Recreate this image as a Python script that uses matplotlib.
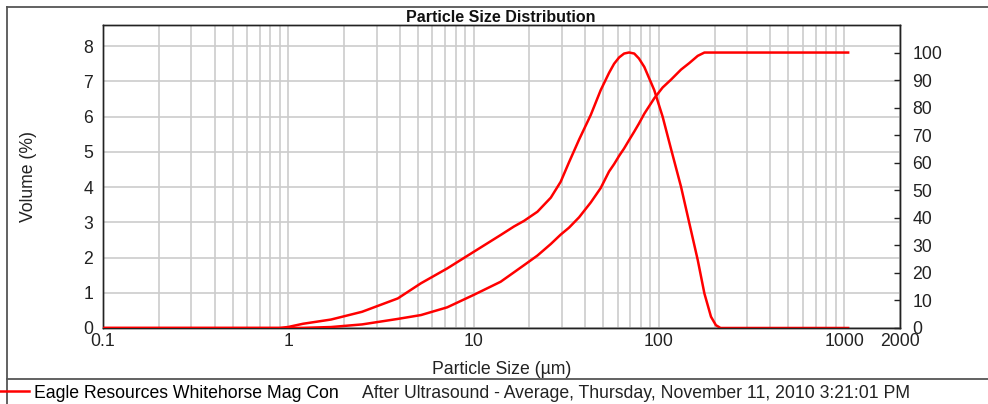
import matplotlib
matplotlib.use("Agg")
import matplotlib.pyplot as plt
from matplotlib.lines import Line2D
from matplotlib.ticker import FixedLocator, LogLocator, NullFormatter

plt.rcParams["font.family"] = ["Liberation Sans", "DejaVu Sans"]

# particle sizes (um)
sizes = [0.1, 0.2, 0.5, 0.9, 1.0, 1.2, 1.7, 2.5, 3.9, 5.2, 7.2, 10, 12, 14, 16.5,
         18.7, 22.1, 26.1, 29.5, 32.7, 37.1, 42.9, 48.5, 53.8, 57.3, 61, 64.9, 69,
         73.6, 78, 83.4, 94.4, 104.7, 116, 131.6, 146, 162, 176, 191, 203, 215,
         300, 500, 1050]
# volume density (%), left axis
volume = [0, 0, 0, 0, 0.03, 0.12, 0.24, 0.46, 0.84, 1.27, 1.69, 2.16, 2.42, 2.64,
          2.88, 3.04, 3.3, 3.7, 4.15, 4.7, 5.35, 6.05, 6.75, 7.24, 7.5, 7.68,
          7.79, 7.82, 7.79, 7.65, 7.41, 6.75, 6.0, 5.1, 4.01, 2.97, 1.93, 0.98,
          0.32, 0.08, 0, 0, 0, 0]
# cumulative volume (%), right axis
cumulative = [0, 0, 0, 0, 0, 0.05, 0.35, 1.3, 3.3, 4.7, 7.5, 12.0, 14.6, 16.8,
              20.2, 22.8, 26.3, 30.5, 33.9, 36.4, 40.2, 45.6, 50.8, 56.8, 59.5,
              62.5, 65.2, 68.2, 71.3, 74.2, 77.8, 83.4, 87.3, 90.1, 93.8, 96.2,
              98.8, 100, 100, 100, 100, 100, 100, 100]

x_ticks = [0.1, 1, 10, 100, 1000, 2000]
x_labels = ["0.1", "1", "10", "100", "1000", "2000"]
left_ticks = list(range(0, 9))
right_ticks = list(range(0, 101, 10))

series_label = "Eagle Resources Whitehorse Mag Con"
run_label = "After Ultrasound - Average, Thursday, November 11, 2010 3:21:01 PM"

W, H = 988, 404
fig = plt.figure(figsize=(W / 100, H / 100), dpi=100)
fig.patch.set_facecolor("white")

left, right, top, bottom = 103, 900, 25, 328
ax = fig.add_axes([left / W, 1 - bottom / H, (right - left) / W, (bottom - top) / H])
ax2 = ax.twinx()

red = "#ff0000"
fs = 12.7
ax.plot(sizes, volume, color=red, lw=1.8, zorder=3)
line2, = ax2.plot(sizes, cumulative, color=red, lw=1.8, zorder=3)

ax.set_xscale("log")
ax.set_xlim(0.1, 2000)
ax.set_ylim(0, 8.6)
ax2.set_ylim(0, 110)

ax.xaxis.set_major_locator(FixedLocator(x_ticks))
ax.set_xticklabels(x_labels)
ax.xaxis.set_minor_locator(LogLocator(base=10, subs=range(2, 10), numticks=20))
ax.xaxis.set_minor_formatter(NullFormatter())
ax.set_yticks(left_ticks)
ax2.set_yticks(right_ticks)

grid_col = "#cccccc"
ax.grid(True, which="both", axis="x", color=grid_col, lw=1.2, zorder=0)
ax.grid(True, which="major", axis="y", color=grid_col, lw=1.2, zorder=0)
ax.set_axisbelow(True)

ax.tick_params(axis="x", which="both", length=0, labelsize=fs, pad=3.5, colors="#222222")
ax.tick_params(axis="y", length=0, labelsize=fs, pad=7, colors="#222222")
ax2.tick_params(axis="y", direction="in", length=4.5, width=1, labelsize=fs, pad=9,
                colors="#222222")

for spine in list(ax.spines.values()) + list(ax2.spines.values()):
    spine.set_color("#222222")
    spine.set_linewidth(1.0)

ax.set_xlabel("Particle Size (µm)", fontsize=fs, color="#222222", labelpad=8)
ax.set_ylabel("Volume (%)", fontsize=fs, color="#222222", labelpad=33)
fig.text(501 / W, 1 - 17 / H, "Particle Size Distribution", ha="center", va="center",
         fontsize=11.5, fontweight="bold", color="#111111")

# outer frame and legend separator
frame_col = "#555555"
fig.add_artist(Line2D([7 / W, 1], [1 - 7 / H, 1 - 7 / H], color=frame_col, lw=1.3))
fig.add_artist(Line2D([7 / W, 7 / W], [0, 1 - 7 / H], color=frame_col, lw=1.3))
fig.add_artist(Line2D([7 / W, 1], [1 - 379 / H, 1 - 379 / H], color=frame_col, lw=1.3))

fig.legend([line2], [series_label], loc="center left",
           bbox_to_anchor=(0, 1 - 393 / H), frameon=False, fontsize=fs,
           borderaxespad=0, borderpad=0, handlelength=1.65, handletextpad=0.25)
fig.text(362 / W, 1 - 393 / H, run_label, ha="left", va="center", fontsize=fs,
         color="#222222")

fig.savefig("out.png", dpi=100)
